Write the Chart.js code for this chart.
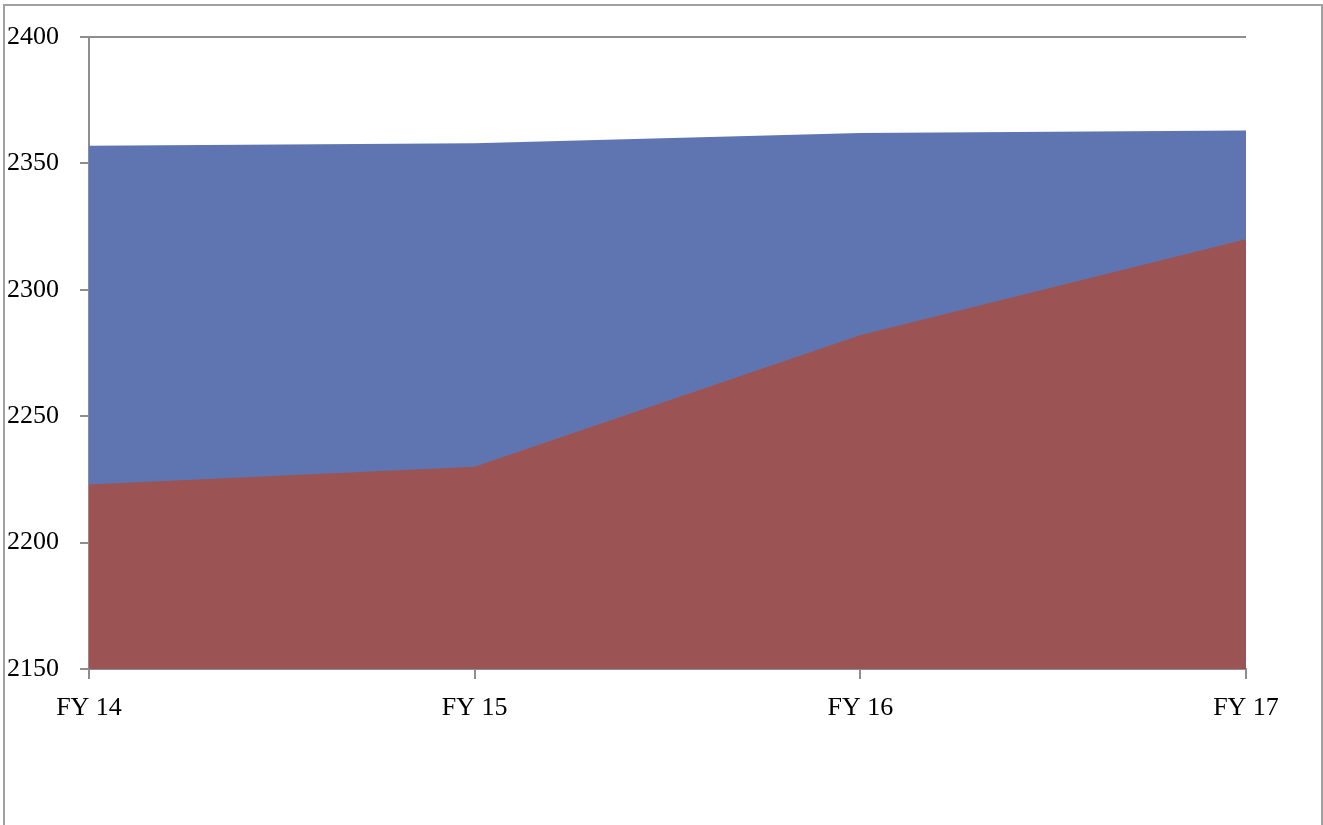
<!DOCTYPE html>
<html>
<head>
<meta charset="utf-8">
<script src="https://cdn.jsdelivr.net/npm/chart.js@4"></script>
<style>
  html, body { margin: 0; padding: 0; background: #fff; overflow: hidden; }
  #frame {
    position: absolute; left: 3px; top: 4px; width: 1316px; height: 900px;
    border: 2px solid #a0a0a0;
  }
  #wrap { position: absolute; left: 0; top: 0; width: 1323px; height: 825px; }
</style>
</head>
<body>
<div id="frame"></div>
<div id="wrap"><canvas id="areaChart"></canvas></div>
<script>
const labels = ['FY 14', 'FY 15', 'FY 16', 'FY 17'];
const upperSeries = [2357, 2358, 2362, 2363];
const lowerSeries = [2223, 2230, 2282, 2320];
const yTicks = [2150, 2200, 2250, 2300, 2350, 2400];

const axisGray = '#8e8e8e';
const font = { family: "'Liberation Serif', 'DejaVu Serif', serif", size: 26 };

document.addEventListener('DOMContentLoaded', function () {
  const canvas = document.querySelector('#areaChart');
  new Chart(canvas, {
    type: 'line',
    data: {
      labels: labels,
      datasets: [
        {
          label: 'Series 1',
          data: upperSeries,
          backgroundColor: '#5f75b2',
          borderWidth: 0,
          pointRadius: 0,
          fill: 'start',
          order: 2
        },
        {
          label: 'Series 2',
          data: lowerSeries,
          backgroundColor: '#9b5353',
          borderWidth: 0,
          pointRadius: 0,
          fill: 'start',
          order: 1
        }
      ]
    },
    options: {
      responsive: true,
      maintainAspectRatio: false,
      animation: false,
      layout: { padding: { top: 37, right: 77, bottom: 0, left: 7 } },
      plugins: {
        legend: { display: false },
        tooltip: { enabled: false }
      },
      scales: {
        x: {
          offset: false,
          afterFit: scale => { scale.height = 156; },
          grid: { drawOnChartArea: false, drawTicks: true, tickLength: 10, color: axisGray, lineWidth: 2 },
          border: { color: axisGray, width: 2 },
          ticks: { color: '#000', font: font, padding: 14, maxRotation: 0 }
        },
        y: {
          min: 2150,
          max: 2400,
          afterFit: scale => { scale.width = 82; },
          afterBuildTicks: scale => { scale.ticks = yTicks.map(v => ({ value: v })); },
          grid: { drawTicks: true, tickLength: 9, color: axisGray, lineWidth: 2 },
          border: { color: axisGray, width: 2 },
          ticks: { color: '#000', font: font, crossAlign: 'far', padding: 8, callback: v => String(v) }
        }
      }
    }
  });
});
</script>
</body>
</html>
